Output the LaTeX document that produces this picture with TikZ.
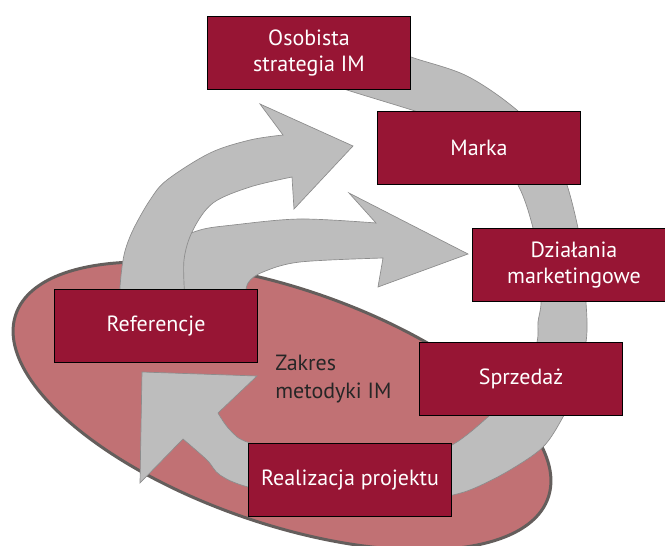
\documentclass[tikz,border=0pt]{standalone}
\usepackage{fontspec}
\setmainfont{PT Sans}
\usetikzlibrary{positioning}
\definecolor{wine}{RGB}{151,21,52}
\definecolor{rosy}{RGB}{193,113,116}
\definecolor{ashgray}{RGB}{189,189,189}
\definecolor{rim}{RGB}{100,94,92}

\begin{document}
\begin{tikzpicture}[x=0.75pt,y=-0.75pt,
    box/.style={draw=black,fill=wine,text=white,line width=1pt,align=center,
      font=\fontsize{16.5}{20}\selectfont,minimum width=152pt,minimum height=55pt,inner sep=0pt},
    band/.style={fill=ashgray,draw=black!45,line width=0.5pt,line join=miter}]
    \useasboundingbox (0,0) rectangle (665,546);
    \draw[fill=rosy,draw=rim,line width=2.25pt,rotate around={-19:(282,406)}] (282,406) ellipse (281.5 and 117.5);
    \filldraw[band] plot[smooth,tension=0.55] coordinates {(385,45) (411,57) (467,76) (518,111) (552,150) (567,185) (578,228) (584,265) (586,302) (587,322) (586,342) (578,385) (563,417) (543,447) (510,470) (477,487) (453,495) (400,506) (320,503) (248,487) (220,475) (207,460) (183,439)}
      -- (140,483) -- (142,372) -- (257,376) -- (218,413)
      -- plot[smooth,tension=0.55] coordinates {(218,413) (230,430) (250,443) (320,458) (420,452) (452,445) (490,415) (525,378) (537,342) (538,322) (541,302) (538,265) (533,228) (518,185) (490,148) (445,122) (415,111) (347,90) (320,80)} -- cycle;
    \filldraw[band] plot[smooth,tension=0.55] coordinates {(160,300) (162,265) (175,242) (200,230) (233,225) (300,219) (376,223)}
      -- (349,193) -- (468,254) -- (378,287) -- (383,258)
      -- plot[smooth,tension=0.55] coordinates {(383,258) (300,262) (263,272) (248,283) (245,300)} -- cycle;
    \filldraw[band] plot[smooth,tension=0.55] coordinates {(121,300) (120,287) (124,255) (133,230) (150,200) (167,180) (210,153) (250,140) (283,135)}
      -- (260,104) -- (353,146) -- (294,209) -- (292,177)
      -- plot[smooth,tension=0.55] coordinates {(292,177) (250,187) (213,203) (193,230) (184,260) (185,300)} -- cycle;
    \node[box] (osob) at (309,53) {Osobista\\strategia IM};
    \node[box] (marka) at (479,148) {Marka};
    \node[box] (dzial) at (574,265) {Działania\\marketingowe};
    \node[box] (ref) at (156,326) {Referencje};
    \node[box] (sprz) at (521,379) {Sprzedaż};
    \node[box] (real) at (350,480) {Realizacja projektu};
    \node[align=left,anchor=west,inner sep=0pt,text=black!85,font=\fontsize{16.5}{20.5}\selectfont] (zakres) at (275,379) {Zakres\\metodyki IM};
\end{tikzpicture}
\end{document}
